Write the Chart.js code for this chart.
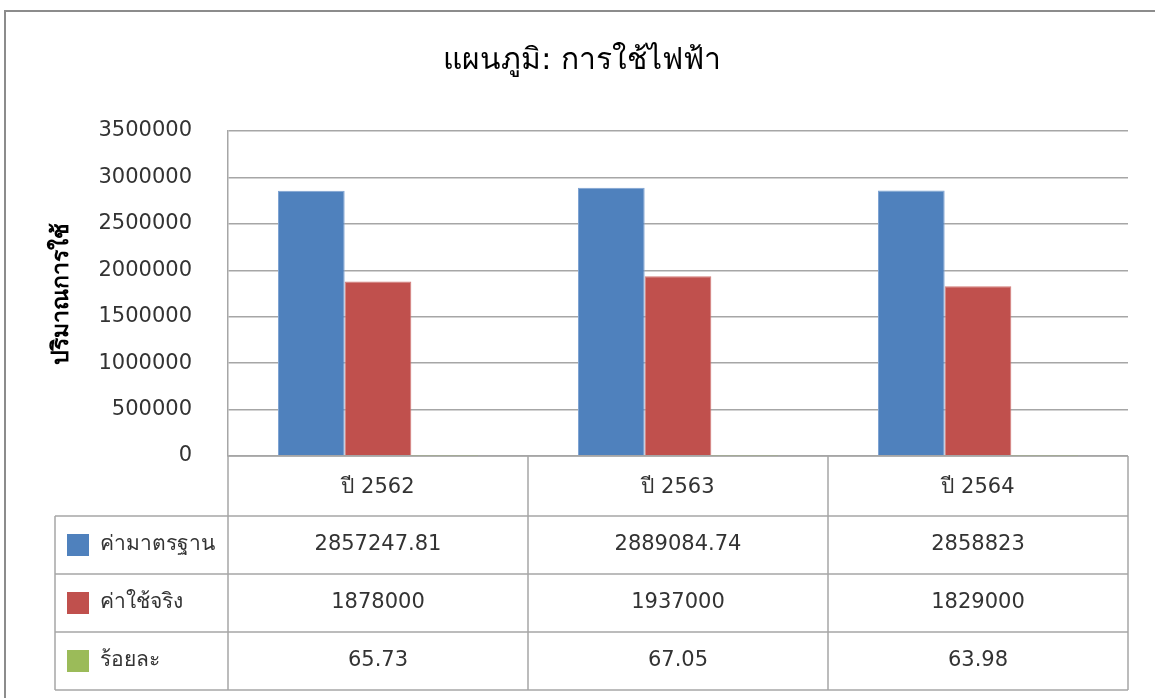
<!DOCTYPE html>
<html>
<head>
<meta charset="utf-8">
<title>แผนภูมิ: การใช้ไฟฟ้า</title>
<script src="https://cdn.jsdelivr.net/npm/chart.js@4.4.1/dist/chart.umd.min.js"></script>
<style>
    html, body { margin: 0; padding: 0; background: #fff; }
    #chart { display: block; }
</style>
</head>
<body>
<canvas id="chart" width="1155" height="698"></canvas>
<script>
const years = ['ปี 2562', 'ปี 2563', 'ปี 2564'];
const seriesNames = ['ค่ามาตรฐาน', 'ค่าใช้จริง', 'ร้อยละ'];
const standardValues = [2857247.81, 2889084.74, 2858823];
const actualValues = [1878000, 1937000, 1829000];
const percentValues = [65.73, 67.05, 63.98];
const seriesColors = ['#4F81BD', '#C0504D', '#9BBB59'];
const yTicks = [0, 500000, 1000000, 1500000, 2000000, 2500000, 3000000, 3500000];

const fontFamily = "'DejaVu Sans', 'Noto Sans', sans-serif";
const lineColor = '#a6a6a6';
const textColor = '#333333';

// draws the outer frame and the data table under the axis
const tablePlugin = {
    id: 'dataTable',
    beforeDraw(chart) {
        const ctx = chart.ctx;
        ctx.save();
        ctx.strokeStyle = '#8c8c8c';
        ctx.lineWidth = 2;
        ctx.strokeRect(5, 11, 1300, 900);
        ctx.restore();
    },
    afterDraw(chart) {
        const ctx = chart.ctx;
        const x = chart.scales.x;
        const area = chart.chartArea;
        const colW = x.getPixelForValue(1) - x.getPixelForValue(0);
        const left = area.left;
        const right = area.right;
        const labelLeft = 55;
        const headerBottom = area.bottom + 60;
        const rowH = 58;
        const rows = [standardValues, actualValues, percentValues];

        ctx.save();
        ctx.strokeStyle = lineColor;
        ctx.lineWidth = 1.5;
        ctx.beginPath();
        // horizontal lines
        ctx.moveTo(left, area.bottom); ctx.lineTo(right, area.bottom);
        for (let r = 0; r <= rows.length; r++) {
            const y = headerBottom + r * rowH;
            ctx.moveTo(labelLeft, y); ctx.lineTo(right, y);
        }
        // vertical lines
        const bottom = headerBottom + rows.length * rowH;
        for (let i = 0; i <= years.length; i++) {
            const cx = x.getPixelForValue(0) - colW / 2 + i * colW;
            ctx.moveTo(cx, area.bottom); ctx.lineTo(cx, bottom);
        }
        ctx.moveTo(labelLeft, headerBottom); ctx.lineTo(labelLeft, bottom);
        ctx.stroke();

        ctx.font = '21px ' + fontFamily;
        ctx.fillStyle = textColor;
        ctx.textBaseline = 'middle';
        rows.forEach((vals, r) => {
            const cy = headerBottom + r * rowH + rowH / 2;
            // legend key
            ctx.fillStyle = seriesColors[r];
            ctx.fillRect(67, cy - 11, 22, 22);
            ctx.fillStyle = textColor;
            ctx.textAlign = 'left';
            ctx.fillText(seriesNames[r], 100, cy);
            ctx.textAlign = 'center';
            vals.forEach((v, i) => {
                ctx.fillText(String(v), x.getPixelForValue(i), cy);
            });
        });
        ctx.restore();
    }
};

new Chart(document.getElementById('chart'), {
    type: 'bar',
    data: {
        labels: years,
        datasets: [
            { label: seriesNames[0], data: standardValues, backgroundColor: seriesColors[0], borderColor: '#7ea3d2', borderWidth: 1 },
            { label: seriesNames[1], data: actualValues, backgroundColor: seriesColors[1], borderColor: '#d27b78', borderWidth: 1 },
            { label: seriesNames[2], data: percentValues, backgroundColor: seriesColors[2], borderWidth: 0 }
        ]
    },
    options: {
        responsive: false,
        animation: false,
        layout: { padding: { left: 36, right: 27, top: 0, bottom: 182 } },
        datasets: { bar: { categoryPercentage: 2 / 3, barPercentage: 1 } },
        plugins: {
            legend: { display: false },
            tooltip: { enabled: false },
            title: {
                display: true,
                text: 'แผนภูมิ: การใช้ไฟฟ้า',
                color: '#000',
                font: { family: fontFamily, size: 30, weight: 'normal', lineHeight: 1.2 },
                padding: { top: 43, bottom: 52 }
            }
        },
        scales: {
            x: {
                grid: { display: false },
                border: { display: false },
                ticks: { color: textColor, font: { family: fontFamily, size: 21 }, padding: 11 },
                afterFit(scale) { scale.height = 60; }
            },
            y: {
                min: 0,
                max: 3500000,
                afterBuildTicks(scale) { scale.ticks = yTicks.map(v => ({ value: v })); },
                grid: { color: lineColor, lineWidth: 1.5, drawTicks: false },
                border: { display: true, color: lineColor, width: 1.5 },
                ticks: {
                    color: textColor,
                    font: { family: fontFamily, size: 21 },
                    padding: 36,
                    callback: v => String(v)
                },
                title: {
                    display: true,
                    text: 'ปริมาณการใช้',
                    color: '#000',
                    font: { family: fontFamily, size: 23, weight: 'bold' },
                    padding: { top: 12, bottom: 0 }
                },
                afterFit(scale) { scale.width = 192; }
            }
        }
    },
    plugins: [tablePlugin]
});
</script>
</body>
</html>
